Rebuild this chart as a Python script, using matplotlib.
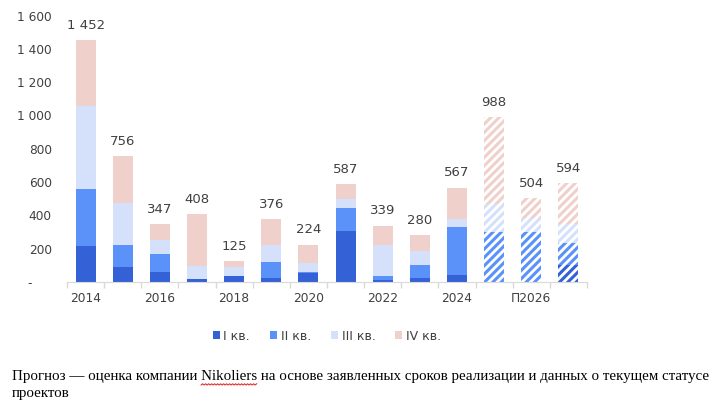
import numpy as np
import matplotlib.pyplot as plt
from matplotlib.ticker import FuncFormatter, FixedLocator
from matplotlib.lines import Line2D

plt.rcParams['hatch.linewidth'] = 2.2

# data, thousand sq.m by quarter
years = ['2014', '2015', '2016', '2017', '2018', '2019', '2020', '2021',
         '2022', '2023', '2024', 'П2025', 'П2026', 'П2027']
q1 = [216, 92, 60, 20, 36, 24, 56, 308, 14, 26, 42, 0, 0, 100]
q2 = [342, 130, 108, 0, 0, 96, 6, 138, 22, 78, 290, 300, 300, 136]
q3 = [502, 252, 84, 78, 54, 102, 54, 52, 186, 82, 46, 166, 86, 114]
q4 = [392, 282, 95, 310, 35, 154, 108, 89, 117, 94, 189, 522, 118, 244]
totals = [1452, 756, 347, 408, 125, 376, 224, 587, 339, 280, 567, 988, 504, 594]
n_fact = 11  # first 11 years are fact, rest forecast

labels = ['I кв.', 'II кв.', 'III кв.', 'IV кв.']
colors = ['#3461D5', '#5A92FA', '#D5E1FB', '#EFD0CB']
note_pre = 'Прогноз — оценка компании '
note_word = 'Nikoliers'
note = (note_pre + note_word + ' на основе заявленных сроков реализации и данных о текущем статусе\n'
        'проектов')

fig = plt.figure(figsize=(7.24, 4.09), dpi=100)
ax = fig.add_axes([67/724, 1-282/409, 520/724, (282-15.6)/409])

x = np.arange(len(years))
w = 0.54
bottom = np.zeros(len(years))
for vals, c, lab in zip([q1, q2, q3, q4], colors, labels):
    vals = np.array(vals, dtype=float)
    ax.bar(x[:n_fact], vals[:n_fact], w, bottom=bottom[:n_fact], color=c,
           linewidth=0, label=lab)
    ax.bar(x[n_fact:], vals[n_fact:], w, bottom=bottom[n_fact:], facecolor='white',
           edgecolor=c, hatch='////', linewidth=0)
    bottom += vals

for xi, t in zip(x, totals):
    ax.annotate(f'{t:,}'.replace(',', ' '), (xi, t), xytext=(0, 6), textcoords='offset points',
                ha='center', va='bottom', fontsize=9.5, color='#404040')

ax.set_xlim(-0.5, len(years) - 0.5)
ax.set_ylim(0, 1600)
ax.yaxis.set_major_locator(FixedLocator(np.arange(0, 1601, 200)))
ax.yaxis.set_major_formatter(FuncFormatter(
    lambda v, p: '-     ' if v == 0 else f'{int(v):,}'.replace(',', ' ')))
ax.tick_params(axis='y', length=0, labelsize=8.7, labelcolor='#404040', pad=11)

ax.set_xticks(x[::2])
ax.set_xticklabels(years[::2])
ax.set_xticks(np.arange(-0.5, len(years)), minor=True)
ax.tick_params(axis='x', which='major', length=0, labelsize=8.8, labelcolor='#404040', pad=7)
ax.tick_params(axis='x', which='minor', length=4, color='#D9D9D9', width=1)

for s in ['top', 'right', 'left']:
    ax.spines[s].set_visible(False)
ax.spines['bottom'].set_color('#D9D9D9')

fig.legend(loc='center', bbox_to_anchor=(327/724, 1-336/409), ncol=4, frameon=False,
           handlelength=0.55, handleheight=0.55, handletextpad=0.3, columnspacing=1.6,
           prop={'size': 9}, labelcolor='#404040')

note_kw = dict(fontsize=10.8, family='Liberation Serif')
txt = fig.text(12/724, 1-370/409, note, ha='left', va='top', color='black',
               linespacing=1.45, **note_kw)

# red spell-check squiggle under the company name
r = fig.canvas.get_renderer()
tmp1 = fig.text(0, 0, note_pre.rstrip() + ' ', **note_kw)
tmp2 = fig.text(0, 0, note_word, **note_kw)
x0 = 12 + tmp1.get_window_extent(r).width
wd = tmp2.get_window_extent(r).width
tmp1.remove()
tmp2.remove()
sx = np.arange(x0, x0 + wd, 1.5)
sy = 409 - 385 + 1.2 * (np.arange(len(sx)) % 2)
fig.add_artist(Line2D(sx / 724, sy / 409, color='#E03030', lw=0.8))

fig.savefig('out.png', dpi=100)
